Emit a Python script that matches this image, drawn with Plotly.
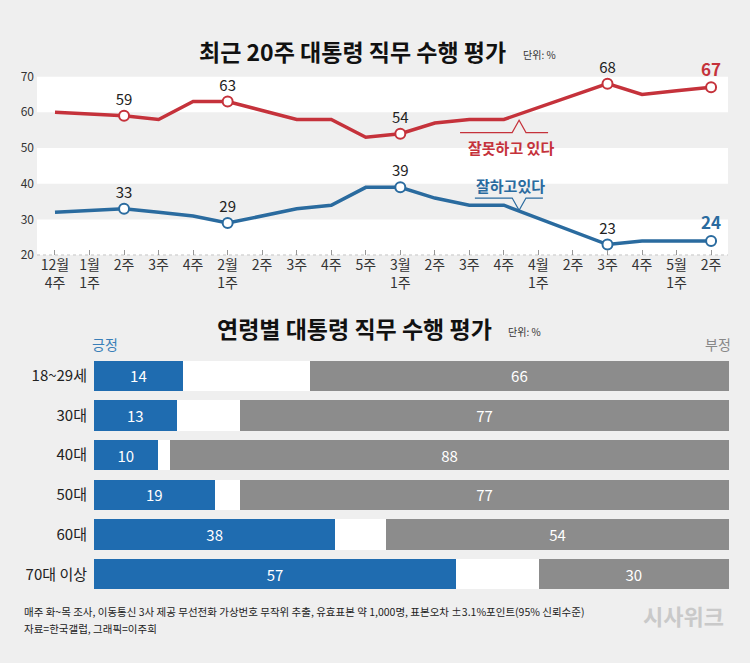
import plotly.graph_objects as go

FONT = "Noto Sans CJK KR"
W, H = 750, 663

# ---------------- data: top chart ----------------
weeks = ["12월<br>4주", "1월<br>1주", "2주", "3주", "4주", "2월<br>1주", "2주", "3주", "4주", "5주",
         "3월<br>1주", "2주", "3주", "4주", "4월<br>1주", "2주", "3주", "4주", "5월<br>1주", "2주"]
negative = [60, None, 59, 58, 63, 63, None, 58, 58, 53, 54, 57, 58, 58, None, None, 68, 65, 66, 67]
positive = [32, None, 33, 32, 31, 29, None, 33, 34, 39, 39, 36, 34, 34, None, None, 23, 24, 24, 24]
labeled_idx = [2, 5, 10, 16, 19]
y_ticks = [20, 30, 40, 50, 60, 70]

# ---------------- data: bottom chart ----------------
ages = ["18~29세", "30대", "40대", "50대", "60대", "70대 이상"]
age_pos = [14, 13, 10, 19, 38, 57]
age_neg = [66, 77, 88, 77, 54, 30]
age_other = [100 - p - n for p, n in zip(age_pos, age_neg)]

RED = "#c5323b"
BLUE = "#2a6b9f"
BAR_BLUE = "#1f6cb0"
BAR_GRAY = "#8c8c8c"
BG = "#efefef"

xidx = list(range(len(weeks)))
fig = go.Figure()

def add_series(vals, color):
    fig.add_trace(go.Scatter(x=xidx, y=vals, mode="lines", connectgaps=True,
                             line=dict(color=color, width=3.5), hoverinfo="skip",
                             xaxis="x", yaxis="y", showlegend=False))
    lx = labeled_idx
    ly = [vals[i] for i in lx]
    last = len(lx) - 1
    texts = [f"<b>{v}</b>" if k == last else str(v) for k, v in enumerate(ly)]
    fig.add_trace(go.Scatter(x=lx, y=ly, mode="markers+text", text=texts,
                             textposition="top center",
                             textfont=dict(family=FONT, size=[15] * last + [17],
                                           color=["#222"] * last + [color]),
                             marker=dict(size=10, color="white", line=dict(color=color, width=2)),
                             cliponaxis=False, hoverinfo="skip",
                             xaxis="x", yaxis="y", showlegend=False))

add_series(negative, RED)
add_series(positive, BLUE)

# bottom stacked bars
fig.add_trace(go.Bar(y=ages, x=age_pos, orientation="h", marker=dict(color=BAR_BLUE, line=dict(width=0)),
                     text=age_pos, textposition="inside", insidetextanchor="middle",
                     textfont=dict(family=FONT, size=15, color="white"),
                     xaxis="x2", yaxis="y2", showlegend=False, hoverinfo="skip"))
fig.add_trace(go.Bar(y=ages, x=age_other, orientation="h", marker=dict(color="white", line=dict(width=0)),
                     xaxis="x2", yaxis="y2", showlegend=False, hoverinfo="skip"))
fig.add_trace(go.Bar(y=ages, x=age_neg, orientation="h", marker=dict(color=BAR_GRAY, line=dict(width=0)),
                     text=age_neg, textposition="inside", insidetextanchor="middle",
                     textfont=dict(family=FONT, size=15, color="white"),
                     xaxis="x2", yaxis="y2", showlegend=False, hoverinfo="skip"))

# ---------------- shapes ----------------
shapes = []
# white bands
for lo, hi in [(60, 70), (40, 50), (20, 30)]:
    shapes.append(dict(type="rect", xref="x domain", yref="y", x0=0, x1=1, y0=lo, y1=hi,
                       fillcolor="white", line=dict(width=0), layer="below"))
# dotted baseline
shapes.append(dict(type="line", xref="x domain", yref="y", x0=0, x1=1, y0=20, y1=20,
                   line=dict(color="#888", width=1, dash="dot"), layer="above"))
# callouts
cx = 13.44
shapes.append(dict(type="path", xref="x", yref="y",
                   path=f"M 11.73 54.3 L {cx-0.2} 54.3 L {cx} 57.8 L {cx+0.2} 54.3 L 14.28 54.3",
                   line=dict(color=RED, width=1.2)))
shapes.append(dict(type="path", xref="x", yref="y",
                   path=f"M 12.16 36.0 L {cx-0.2} 36.0 L {cx} 32.6 L {cx+0.2} 36.0 L 14.13 36.0",
                   line=dict(color=BLUE, width=1.2)))

annotations = [
    dict(text="<b>최근 20주 대통령 직무 수행 평가</b>", x=352 / W, y=1 - 42 / H, xref="paper", yref="paper",
         showarrow=False, font=dict(family=FONT, size=23, color="#111"), xanchor="center", yanchor="middle"),
    dict(text="단위: %", x=521 / W, y=1 - 46 / H, xref="paper", yref="paper", showarrow=False,
         font=dict(family=FONT, size=10, color="#333"), xanchor="left", yanchor="middle"),
    dict(text="<b>연령별 대통령 직무 수행 평가</b>", x=354 / W, y=1 - 326 / H, xref="paper", yref="paper",
         showarrow=False, font=dict(family=FONT, size=23, color="#111"), xanchor="center", yanchor="middle"),
    dict(text="단위: %", x=506 / W, y=1 - 330 / H, xref="paper", yref="paper", showarrow=False,
         font=dict(family=FONT, size=10, color="#333"), xanchor="left", yanchor="middle"),
    dict(text="긍정", x=105 / W, y=1 - 343 / H, xref="paper", yref="paper", showarrow=False,
         font=dict(family=FONT, size=14, color="#3a7fb8"), xanchor="center", yanchor="middle"),
    dict(text="부정", x=718 / W, y=1 - 343 / H, xref="paper", yref="paper", showarrow=False,
         font=dict(family=FONT, size=14, color="#888"), xanchor="center", yanchor="middle"),
    dict(text="<b>잘못하고 있다</b>", x=13.2, y=50.2, xref="x", yref="y", showarrow=False,
         font=dict(family=FONT, size=15, color=RED), xanchor="center", yanchor="middle"),
    dict(text="<b>잘하고있다</b>", x=13.2, y=39.4, xref="x", yref="y", showarrow=False,
         font=dict(family=FONT, size=15, color=BLUE), xanchor="center", yanchor="middle"),
    dict(text="매주 화~목 조사, 이동통신 3사 제공 무선전화 가상번호 무작위 추출, 유효표본 약 1,000명, 표본오차 ±3.1%포인트(95% 신뢰수준)",
         x=22 / W, y=1 - 617 / H, xref="paper", yref="paper", showarrow=False,
         font=dict(family=FONT, size=10.5, color="#222"), xanchor="left", yanchor="middle"),
    dict(text="자료=한국갤럽, 그래픽=이주희", x=22 / W, y=1 - 635 / H, xref="paper", yref="paper", showarrow=False,
         font=dict(family=FONT, size=10.5, color="#222"), xanchor="left", yanchor="middle"),
    dict(text="<b>시사위크</b>", x=726 / W, y=1 - 621 / H, xref="paper", yref="paper", showarrow=False,
         font=dict(family=FONT, size=22, color="#c9c9c9"), xanchor="right", yanchor="middle"),
]

fig.update_layout(
    width=W, height=H, margin=dict(l=0, r=0, t=0, b=0),
    paper_bgcolor=BG, plot_bgcolor=BG,
    font=dict(family=FONT, color="#222"),
    barmode="stack", bargap=0.24,
    shapes=shapes, annotations=annotations,
    xaxis=dict(domain=[37 / W, 728 / W], range=[-0.521, 19.49], tickvals=xidx, ticktext=weeks,
               ticks="inside", ticklen=5, tickcolor="#999", tickwidth=1,
               tickfont=dict(family=FONT, size=14, color="#333"),
               showgrid=False, zeroline=False, showline=False, fixedrange=True),
    yaxis=dict(domain=[1 - 251.7 / H, 1 - 68.3 / H], range=[20, 70], tickvals=y_ticks,
               tickfont=dict(family=FONT, size=12, color="#333"), ticklabelstandoff=2,
               showgrid=False, zeroline=False, showline=False, fixedrange=True),
    xaxis2=dict(domain=[94 / W, 729 / W], range=[0, 100], visible=False, fixedrange=True,
                anchor="y2"),
    yaxis2=dict(domain=[1 - 599.5 / H, 1 - 355 / H], range=[5.5, -0.5], anchor="x2",
                tickfont=dict(family=FONT, size=15, color="#222"), ticklabelstandoff=6,
                showgrid=False, zeroline=False, showline=False, ticks="", fixedrange=True),
)

fig.write_html("out.html", config={"displayModeBar": False},
               post_script="document.body.style.margin='0px';document.body.style.padding='0px';")
